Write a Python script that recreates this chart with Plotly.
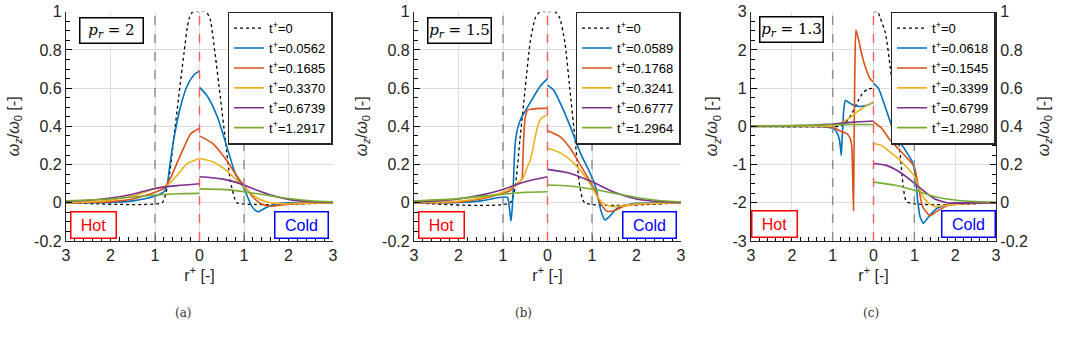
import plotly.graph_objects as go

# ---------------- data ----------------
# Panel (a): p_r = 2   (hot side plotted at negative x, cold side at positive x)
A_LABELS = ["t<sup>+</sup>=0", "t<sup>+</sup>=0.0562", "t<sup>+</sup>=0.1685",
            "t<sup>+</sup>=0.3370", "t<sup>+</sup>=0.6739", "t<sup>+</sup>=1.2917"]
A_T0_R = [-3, -0.84, -0.78, -0.69, -0.58, -0.47, -0.35, -0.24, -0.15, 0,
          0.15, 0.24, 0.35, 0.47, 0.58, 0.69, 0.78, 0.84, 3]
A_T0_W = [0, 0, 0.03, 0.12, 0.33, 0.55, 0.78, 0.96, 1.0, 1.0,
          1.0, 0.96, 0.78, 0.55, 0.33, 0.12, 0.03, 0, 0]
A_BLUE_HOT_R = [-3, -2, -1.5, -1.2, -1, -0.9, -0.8, -0.73, -0.67, -0.58, -0.43, -0.28, -0.12, 0]
A_BLUE_HOT_W = [0, 0.002, 0.01, 0.022, 0.035, 0.045, 0.058, 0.09, 0.19, 0.33, 0.50, 0.61, 0.67, 0.69]
A_BLUE_COLD_R = [0, 0.17, 0.4, 0.62, 0.81, 1.0, 1.18, 1.31, 1.5, 1.7, 2, 3]
A_BLUE_COLD_W = [0.604, 0.56, 0.45, 0.29, 0.15, 0.075, -0.02, -0.047, -0.025, -0.007, 0, 0]
A_ORANGE_HOT_R = [-3, -2, -1.5, -1, -0.8, -0.65, -0.5, -0.35, -0.2, 0]
A_ORANGE_HOT_W = [0, 0.006, 0.02, 0.055, 0.075, 0.13, 0.21, 0.29, 0.36, 0.39]
A_ORANGE_COLD_R = [0, 0.3, 0.6, 0.85, 1.0, 1.2, 1.38, 1.6, 2.0, 2.5, 3]
A_ORANGE_COLD_W = [0.35, 0.31, 0.225, 0.136, 0.09, 0.03, -0.005, -0.018, -0.008, -0.002, 0]
A_YELLOW_HOT_R = [-3, -2.5, -2, -1.5, -1, -0.73, -0.5, -0.28, 0]
A_YELLOW_HOT_W = [0, 0.004, 0.013, 0.035, 0.075, 0.09, 0.145, 0.205, 0.232]
A_YELLOW_COLD_R = [0, 0.3, 0.6, 0.9, 1.1, 1.3, 1.5, 1.8, 2.2, 3]
A_YELLOW_COLD_W = [0.232, 0.215, 0.17, 0.105, 0.06, 0.025, 0.005, -0.005, -0.003, 0]
A_PURPLE_HOT_R = [-3, -2.5, -2, -1.5, -1, -0.5, 0]
A_PURPLE_HOT_W = [0.007, 0.013, 0.025, 0.045, 0.075, 0.09, 0.10]
A_PURPLE_COLD_R = [0, 0.5, 1, 1.3, 1.6, 2, 2.5, 3]
A_PURPLE_COLD_W = [0.136, 0.125, 0.093, 0.065, 0.04, 0.018, 0.006, 0.002]
A_GREEN_HOT_R = [-3, -2, -1.5, -1, -0.5, 0]
A_GREEN_HOT_W = [0.01, 0.02, 0.03, 0.04, 0.047, 0.049]
A_GREEN_COLD_R = [0, 0.5, 1, 1.5, 2, 2.5, 3]
A_GREEN_COLD_W = [0.073, 0.07, 0.058, 0.04, 0.022, 0.01, 0.005]

# Panel (b): p_r = 1.5
B_LABELS = ["t<sup>+</sup>=0", "t<sup>+</sup>=0.0589", "t<sup>+</sup>=0.1768",
            "t<sup>+</sup>=0.3241", "t<sup>+</sup>=0.6777", "t<sup>+</sup>=1.2964"]
B_T0_R = [-3, -0.84, -0.73, -0.62, -0.5, -0.39, -0.27, -0.165, 0,
          0.165, 0.27, 0.39, 0.5, 0.62, 0.73, 0.84, 3]
B_T0_W = [0, 0, 0.08, 0.33, 0.6, 0.84, 0.97, 1.0, 1.0,
          1.0, 0.97, 0.84, 0.6, 0.33, 0.08, 0, 0]
B_BLUE_HOT_R = [-3, -2, -1.5, -1, -0.9, -0.86, -0.82, -0.79, -0.76, -0.73, -0.68, -0.6,
                -0.5, -0.35, -0.165, 0]
B_BLUE_HOT_W = [0, 0.002, 0.01, 0.03, 0.028, -0.02, -0.095, -0.02, 0.14, 0.3, 0.38, 0.44,
                0.48, 0.54, 0.61, 0.65]
B_BLUE_COLD_R = [0, 0.135, 0.29, 0.51, 0.74, 0.96, 1.08, 1.2, 1.29, 1.38, 1.56, 1.8, 2, 3]
B_BLUE_COLD_W = [0.616, 0.59, 0.52, 0.40, 0.26, 0.154, 0.084, -0.04, -0.09, -0.075, -0.03,
                 -0.01, -0.003, 0]
B_ORANGE_HOT_R = [-3, -2, -1.5, -1, -0.84, -0.69, -0.6, -0.57, -0.55, -0.52, -0.49, -0.45,
                  -0.35, -0.15, 0]
B_ORANGE_HOT_W = [0, 0.005, 0.02, 0.05, 0.063, 0.10, 0.115, 0.13, 0.25, 0.40, 0.46, 0.485,
                  0.49, 0.494, 0.495]
B_ORANGE_COLD_R = [0, 0.29, 0.51, 0.74, 0.96, 1.08, 1.19, 1.34, 1.49, 1.7, 2, 3]
B_ORANGE_COLD_W = [0.377, 0.345, 0.285, 0.197, 0.11, 0.058, -0.003, -0.044, -0.042, -0.02,
                   -0.008, 0]
B_YELLOW_HOT_R = [-3, -2, -1.5, -0.98, -0.68, -0.55, -0.45, -0.4, -0.34, -0.28, -0.22,
                  -0.15, -0.05, 0]
B_YELLOW_HOT_W = [0, 0.008, 0.025, 0.058, 0.10, 0.13, 0.19, 0.215, 0.27, 0.34, 0.40,
                  0.44, 0.455, 0.46]
B_YELLOW_COLD_R = [0, 0.3, 0.6, 0.9, 1.1, 1.25, 1.45, 1.7, 2, 3]
B_YELLOW_COLD_W = [0.285, 0.26, 0.205, 0.12, 0.04, -0.003, -0.02, -0.015, -0.007, 0]
B_PURPLE_HOT_R = [-3, -2.5, -2, -1.5, -1, -0.5, 0]
B_PURPLE_HOT_W = [0.005, 0.01, 0.02, 0.04, 0.07, 0.11, 0.136]
B_PURPLE_COLD_R = [0, 0.5, 1, 1.5, 2, 2.5, 3]
B_PURPLE_COLD_W = [0.175, 0.155, 0.11, 0.055, 0.02, 0.007, 0.002]
B_GREEN_HOT_R = [-3, -2, -1, -0.5, 0]
B_GREEN_HOT_W = [0.01, 0.022, 0.045, 0.055, 0.058]
B_GREEN_COLD_R = [0, 0.5, 1, 1.5, 2, 2.5, 3]
B_GREEN_COLD_W = [0.093, 0.088, 0.072, 0.05, 0.028, 0.012, 0.005]

# Panel (c): p_r = 1.3  (hot side on left axis, cold side on right axis)
C_LABELS = ["t<sup>+</sup>=0", "t<sup>+</sup>=0.0618", "t<sup>+</sup>=0.1545",
            "t<sup>+</sup>=0.3399", "t<sup>+</sup>=0.6799", "t<sup>+</sup>=1.2980"]
C_T0_HOT_R = [-3, -0.86, -0.73, -0.61, -0.49, -0.37, -0.245, -0.12, 0]
C_T0_HOT_W = [0, 0, 0.05, 0.2, 0.42, 0.68, 0.9, 0.98, 1.0]
C_T0_COLD_R = [0, 0.1, 0.16, 0.29, 0.41, 0.53, 0.65, 0.73, 0.82, 3]
C_T0_COLD_W = [1.0, 1.0, 0.97, 0.89, 0.71, 0.485, 0.26, 0.084, 0.005, 0]
C_BLUE_HOT_R = [-3, -1.5, -1.2, -0.98, -0.9, -0.83, -0.79, -0.77, -0.73, -0.69, -0.61,
                -0.49, -0.33, -0.16, 0]
C_BLUE_HOT_W = [0, 0, -0.01, -0.06, -0.15, -0.37, -0.76, -0.37, 0.42, 0.68, 0.63,
                0.55, 0.52, 0.55, 0.63]
C_BLUE_COLD_R = [0, 0.12, 0.29, 0.45, 0.61, 0.78, 0.94, 1.02, 1.08, 1.14, 1.22, 1.35,
                 1.55, 1.8, 2, 3]
C_BLUE_COLD_W = [0.625, 0.6, 0.5, 0.4, 0.33, 0.275, 0.22, 0.15, 0.014, -0.073, -0.108,
                 -0.073, -0.03, -0.01, 0, 0]
C_ORANGE_HOT_R = [-3, -1.2, -0.98, -0.82, -0.65, -0.57, -0.53, -0.49, -0.47, -0.45,
                  -0.43, -0.37, -0.29, -0.2, -0.08, 0]
C_ORANGE_HOT_W = [0, 0, -0.03, -0.12, -0.19, -0.32, -0.55, -2.2, 0.24, 1.98,
                  2.52, 2.29, 1.9, 1.55, 1.24, 1.16]
C_ORANGE_COLD_R = [0, 0.2, 0.4, 0.6, 0.8, 1.0, 1.1, 1.2, 1.38, 1.55, 1.8, 2.2, 3]
C_ORANGE_COLD_W = [0.424, 0.39, 0.33, 0.285, 0.24, 0.19, 0.084, -0.02, -0.068, -0.045,
                   -0.015, -0.005, 0]
C_YELLOW_HOT_R = [-3, -1.2, -0.98, -0.82, -0.61, -0.41, -0.24, 0]
C_YELLOW_HOT_W = [0, 0.003, 0.01, 0.07, 0.2, 0.37, 0.5, 0.64]
C_YELLOW_COLD_R = [0, 0.2, 0.4, 0.6, 0.8, 1.0, 1.1, 1.2, 1.35, 1.5, 1.8, 2.2, 3]
C_YELLOW_COLD_W = [0.31, 0.30, 0.267, 0.232, 0.19, 0.14, 0.087, 0.035, -0.003, -0.02,
                   -0.012, -0.005, 0]
C_PURPLE_HOT_R = [-3, -2, -1.5, -1, -0.5, 0]
C_PURPLE_HOT_W = [0.005, 0.015, 0.03, 0.06, 0.11, 0.14]
C_PURPLE_COLD_R = [0, 0.3, 0.6, 0.9, 1.1, 1.3, 1.5, 1.8, 2.2, 3]
C_PURPLE_COLD_W = [0.206, 0.197, 0.166, 0.12, 0.084, 0.05, 0.02, 0.0, -0.002, 0]
C_GREEN_HOT_R = [-3, -2, -1.5, -1, -0.5, 0]
C_GREEN_HOT_W = [0.01, 0.02, 0.03, 0.04, 0.05, 0.05]
C_GREEN_COLD_R = [0, 0.5, 1, 1.5, 2, 2.5, 3]
C_GREEN_COLD_W = [0.108, 0.093, 0.066, 0.032, 0.015, 0.007, 0.003]

# tick label aliases: |r| on the x axis, ASCII hyphen for negative y labels
X_ALIAS = {"\u22123": "3", "\u22122": "2", "\u22121": "1"}
Y_ALIAS = {"\u22120.2": "-0.2"}
YC_ALIAS = {"\u22123": "-3", "\u22122": "-2", "\u22121": "-1"}
PR_TEXT = ["2", "1.5", "1.3"]
CAPTIONS = ["(a)", "(b)", "(c)"]

# ---------------- styling ----------------
W, H = 1066, 343
COLORS = ["#0072BD", "#D95319", "#EDB120", "#7E2F8E", "#77AC30"]
AX = "#262626"
SANS = "Liberation Sans, Arial, sans-serif"
SERIF = "DejaVu Serif, Liberation Serif, serif"
LW = 1.6

# plot-area pixel boxes  (left, right)
PANELS = [(66, 333), (414, 681), (751, 996)]
TOP, BOT = 11.7, 241


def fx(p):
    return p / W


def fy(p):
    return 1 - p / H


fig = go.Figure()


def joined(hr, hw, cr, cw):
    return list(hr) + [None] + list(cr), list(hw) + [None] + list(cw)


def add_panel(xa, ya, legend, labels, t0r, t0w, series):
    fig.add_trace(go.Scatter(x=t0r, y=t0w, mode="lines", name=labels[0],
                             line=dict(color="black", width=1.3, dash="dot", shape="spline",
                                       smoothing=0.6),
                             xaxis=xa, yaxis=ya, legend=legend))
    for i, (hr, hw, cr, cw) in enumerate(series):
        x, y = joined(hr, hw, cr, cw)
        fig.add_trace(go.Scatter(x=x, y=y, mode="lines", name=labels[i + 1],
                                 line=dict(color=COLORS[i], width=LW, shape="spline",
                                           smoothing=0.6),
                                 connectgaps=False, xaxis=xa, yaxis=ya, legend=legend))


add_panel("x", "y", "legend", A_LABELS, A_T0_R, A_T0_W, [
    (A_BLUE_HOT_R, A_BLUE_HOT_W, A_BLUE_COLD_R, A_BLUE_COLD_W),
    (A_ORANGE_HOT_R, A_ORANGE_HOT_W, A_ORANGE_COLD_R, A_ORANGE_COLD_W),
    (A_YELLOW_HOT_R, A_YELLOW_HOT_W, A_YELLOW_COLD_R, A_YELLOW_COLD_W),
    (A_PURPLE_HOT_R, A_PURPLE_HOT_W, A_PURPLE_COLD_R, A_PURPLE_COLD_W),
    (A_GREEN_HOT_R, A_GREEN_HOT_W, A_GREEN_COLD_R, A_GREEN_COLD_W),
])
add_panel("x2", "y2", "legend2", B_LABELS, B_T0_R, B_T0_W, [
    (B_BLUE_HOT_R, B_BLUE_HOT_W, B_BLUE_COLD_R, B_BLUE_COLD_W),
    (B_ORANGE_HOT_R, B_ORANGE_HOT_W, B_ORANGE_COLD_R, B_ORANGE_COLD_W),
    (B_YELLOW_HOT_R, B_YELLOW_HOT_W, B_YELLOW_COLD_R, B_YELLOW_COLD_W),
    (B_PURPLE_HOT_R, B_PURPLE_HOT_W, B_PURPLE_COLD_R, B_PURPLE_COLD_W),
    (B_GREEN_HOT_R, B_GREEN_HOT_W, B_GREEN_COLD_R, B_GREEN_COLD_W),
])

# panel c: hot side -> left axis (y3), cold side -> right axis (y4)
C_SERIES = [
    (C_T0_HOT_R, C_T0_HOT_W, C_T0_COLD_R, C_T0_COLD_W),
    (C_BLUE_HOT_R, C_BLUE_HOT_W, C_BLUE_COLD_R, C_BLUE_COLD_W),
    (C_ORANGE_HOT_R, C_ORANGE_HOT_W, C_ORANGE_COLD_R, C_ORANGE_COLD_W),
    (C_YELLOW_HOT_R, C_YELLOW_HOT_W, C_YELLOW_COLD_R, C_YELLOW_COLD_W),
    (C_PURPLE_HOT_R, C_PURPLE_HOT_W, C_PURPLE_COLD_R, C_PURPLE_COLD_W),
    (C_GREEN_HOT_R, C_GREEN_HOT_W, C_GREEN_COLD_R, C_GREEN_COLD_W),
]
for i, (hr, hw, cr, cw) in enumerate(C_SERIES):
    if i == 0:
        ln = dict(color="black", width=1.3, dash="dot", shape="spline", smoothing=0.6)
    else:
        ln = dict(color=COLORS[i - 1], width=LW, shape="spline", smoothing=0.4)
    fig.add_trace(go.Scatter(x=cr, y=cw, mode="lines", name=C_LABELS[i], line=ln,
                             legendgroup="c%d" % i, xaxis="x3", yaxis="y4", legend="legend3"))
    fig.add_trace(go.Scatter(x=hr, y=hw, mode="lines", name=C_LABELS[i], line=ln,
                             legendgroup="c%d" % i, showlegend=False,
                             xaxis="x3", yaxis="y3", legend="legend3"))

# ---------------- axes ----------------
tickfont = dict(family=SANS, size=16, color=AX)


def xaxis_cfg(k, anchor):
    l, r = PANELS[k]
    return dict(domain=[fx(l), fx(r)], anchor=anchor, range=[-3, 3],
                tickmode="linear", tick0=0, dtick=1, labelalias=X_ALIAS,
                ticks="inside", ticklen=6, tickwidth=1.2, tickcolor="#000000",
                showline=True, linecolor=AX, linewidth=1.2, mirror=False,
                showgrid=True, gridcolor="#DCDCDC", gridwidth=1, zeroline=False,
                tickfont=tickfont, automargin=False, layer="above traces",
                minor=dict(tickmode="linear", tick0=0, dtick=0.2, ticks="inside",
                           ticklen=4, tickwidth=1.1, tickcolor="#000000", showgrid=False),
                title=dict(text="r<sup>+</sup> [-]", font=dict(family=SANS, size=16, color=AX),
                           standoff=5))


def yaxis_cfg(anchor, rng, dt, alias, minor_dt, side="left"):
    return dict(domain=[fy(BOT), fy(TOP)], anchor=anchor, range=rng, side=side,
                tickmode="linear", tick0=0, dtick=dt, labelalias=alias,
                ticks="inside", ticklen=6, tickwidth=1.2, tickcolor="#000000",
                showline=True, linecolor=AX, linewidth=1.2, mirror=False,
                showgrid=True, gridcolor="#DCDCDC", gridwidth=1, zeroline=False,
                tickfont=tickfont, automargin=False, layer="above traces",
                minor=dict(tickmode="linear", tick0=0, dtick=minor_dt, ticks="inside",
                           ticklen=4, tickwidth=1.1, tickcolor="#000000", showgrid=False),
                title=dict(text="<i>ω</i><sub><i>z</i></sub>/<i>ω</i><sub>0</sub> [-]",
                           font=dict(family=SANS, size=16, color=AX), standoff=10))


ya = yaxis_cfg("x", [-0.2, 1], 0.2, Y_ALIAS, 0.05)
yb = yaxis_cfg("x2", [-0.2, 1], 0.2, Y_ALIAS, 0.05)
yc = yaxis_cfg("x3", [-3, 3], 1, YC_ALIAS, 0.25)
yd = yaxis_cfg("x3", [-0.2, 1], 0.2, Y_ALIAS, 0.05, side="right")
yd.update(overlaying="y3", showgrid=False)

fig.update_layout(
    width=W, height=H, margin=dict(l=0, r=0, t=0, b=0),
    paper_bgcolor="white", plot_bgcolor="white",
    font=dict(family=SANS, color=AX),
    xaxis=xaxis_cfg(0, "y"), xaxis2=xaxis_cfg(1, "y2"), xaxis3=xaxis_cfg(2, "y3"),
    yaxis=ya, yaxis2=yb, yaxis3=yc, yaxis4=yd,
)

# legends
for name, k in (("legend", 0), ("legend2", 1), ("legend3", 2)):
    l, r = PANELS[k]
    fig.update_layout({name: dict(x=fx(r - 0.5), y=fy(TOP), xanchor="right", yanchor="top",
                                  bgcolor="white", bordercolor="#262626", borderwidth=1.5,
                                  font=dict(family=SANS, size=13, color="black"),
                                  tracegroupgap=0, itemwidth=30)})

# reference lines (r = +-1 grey, interface r = 0 red)
for k, xa in enumerate(["x", "x2", "x3"]):
    ydom = ["y", "y2", "y3"][k] + " domain"
    for xv in (-1, 1):
        fig.add_shape(type="line", xref=xa, yref=ydom, x0=xv, x1=xv, y0=0, y1=1,
                      line=dict(color="#8C8C8C", width=1.4, dash="dash"), layer="above")
    fig.add_shape(type="line", xref=xa, yref=ydom, x0=0, x1=0, y0=0, y1=1,
                  line=dict(color="#FF5A5A", width=1.4, dash="dash"), layer="above")

# p_r boxes
PR_BOX = [(111.5, 31), (459, 31), (791, 30)]
for k, (cx, cy) in enumerate(PR_BOX):
    fig.add_annotation(xref="paper", yref="paper", x=fx(cx), y=fy(cy),
                       text="<i>p<sub>r</sub></i> = " + PR_TEXT[k], showarrow=False,
                       font=dict(family=SERIF, size=15, color="black"),
                       bordercolor="black", borderwidth=1.5, bgcolor="white",
                       width=60, height=22, xanchor="center", yanchor="middle")

# Hot / Cold boxes
HOT_BOX = [(93.5, 224.5), (441, 224.5), (774.5, 223.5)]
COLD_BOX = [(301.5, 224.5), (649, 224.5), (968, 223.5)]
for k in range(3):
    fig.add_annotation(xref="paper", yref="paper", x=fx(HOT_BOX[k][0]), y=fy(HOT_BOX[k][1]),
                       text="Hot", showarrow=False,
                       font=dict(family=SANS, size=16, color="#FF0000"),
                       bordercolor="#FF0000", borderwidth=1.5, bgcolor="white",
                       width=42, height=23, xanchor="center", yanchor="middle")
    fig.add_annotation(xref="paper", yref="paper", x=fx(COLD_BOX[k][0]), y=fy(COLD_BOX[k][1]),
                       text="Cold", showarrow=False,
                       font=dict(family=SANS, size=16, color="#0000FF"),
                       bordercolor="#0000FF", borderwidth=1.5, bgcolor="white",
                       width=50, height=23, xanchor="center", yanchor="middle")

# sub-figure captions
CAP_X = [183, 523, 871]
for k in range(3):
    fig.add_annotation(xref="paper", yref="paper", x=fx(CAP_X[k]), y=fy(313),
                       text=CAPTIONS[k], showarrow=False,
                       font=dict(family=SERIF, size=12, color="#333333"),
                       xanchor="center", yanchor="middle")

fig.write_html("out.html")
